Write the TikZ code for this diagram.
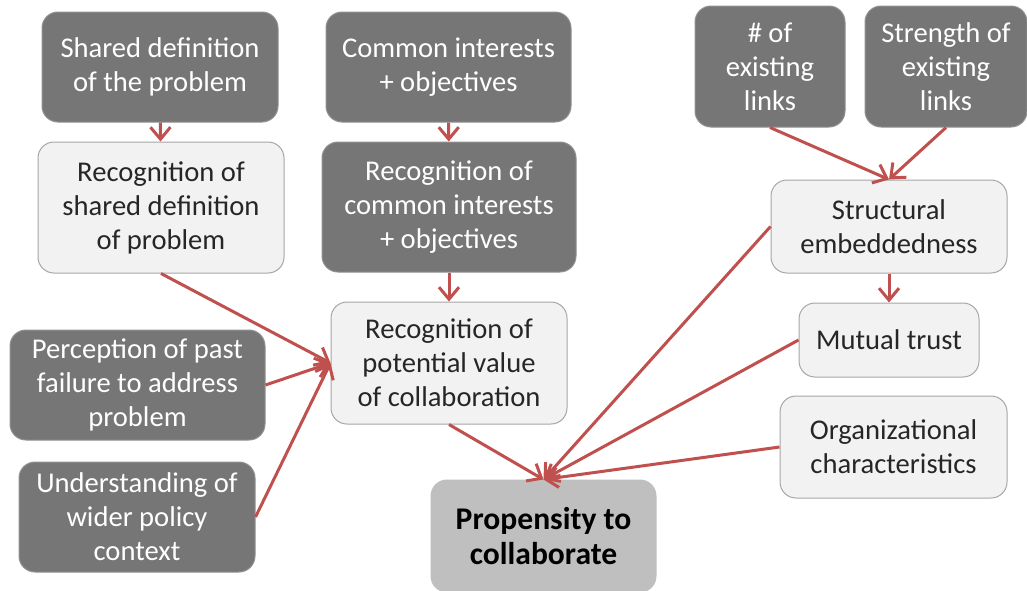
\documentclass[tikz,border=0pt]{standalone}
\usepackage{fontspec}
\setmainfont{Carlito}
\usetikzlibrary{arrows.meta}
\definecolor{darkbox}{HTML}{767676}
\definecolor{lightbox}{HTML}{F2F2F2}
\definecolor{lightborder}{HTML}{A6A6A6}
\definecolor{midbox}{HTML}{BFBFBF}
\definecolor{arrred}{HTML}{C0504D}
\definecolor{txt}{HTML}{262626}
\tikzset{
  base/.style={rounded corners=8pt, align=center, inner sep=0pt,
    font=\fontsize{14.3}{17}\selectfont},
  dark/.style={base, fill=darkbox, draw=darkbox!80!white, line width=0.5pt, text=white},
  light/.style={base, fill=lightbox, draw=lightborder, line width=0.5pt, text=txt},
  mid/.style={base, fill=midbox, draw=midbox, line width=0.5pt, text=black,
    font=\fontsize{15.8}{17.5}\selectfont\bfseries},
  conn/.style={draw=arrred, line width=1.5pt, -{Straight Barb[length=6pt,width=10pt,line width=1.5pt]}},
}
\begin{document}
\begin{tikzpicture}[x=0.5pt,y=-0.5pt]
\useasboundingbox (0,0) rectangle (1027,590);
% left column
\node[dark, minimum width=118pt, minimum height=55pt] (sd) at (160,67) {Shared definition\\of the problem};
\node[light, minimum width=123pt, minimum height=65.5pt] (rsd) at (161,207.5) {Recognition of\\shared definition\\of problem};
% middle column
\node[dark, minimum width=122.5pt, minimum height=55pt] (ci) at (448.5,67) {Common interests\\+ objectives};
\node[dark, minimum width=127pt, minimum height=65pt] (rci) at (449,207) {Recognition of\\common interests\\+ objectives};
\node[light, minimum width=118pt, minimum height=61pt] (pv) at (449,363) {Recognition of\\potential value\\of collaboration};
% lower left
\node[dark, minimum width=127.5pt, minimum height=55pt] (pf) at (137.5,385) {Perception of past\\failure to address\\problem};
\node[dark, minimum width=118pt, minimum height=55pt] (uw) at (137,517) {Understanding of\\wider policy\\context};
% target
\node[mid, minimum width=112.5pt, minimum height=56pt] (pc) at (543.5,536) {Propensity to\\collaborate};
% right column
\node[dark, minimum width=75pt, minimum height=60.5pt] (nl) at (770,66.5) {\# of\\existing\\links};
\node[dark, minimum width=81pt, minimum height=60.5pt] (sl) at (946,66.5) {Strength of\\existing\\links};
\node[light, minimum width=118pt, minimum height=46.5pt] (se) at (889,226.5) {Structural\\embeddedness};
\node[light, minimum width=90pt, minimum height=37pt] (mt) at (889,340) {Mutual trust};
\node[light, minimum width=113.5pt, minimum height=51pt] (oc) at (893.5,447) {Organizational\\characteristics};
% connectors
\draw[conn] (sd) -- (rsd);
\draw[conn] (ci) -- (rci);
\draw[conn] (rci) -- (pv);
\draw[conn] (rsd.south) -- (pv.west);
\draw[conn] (pf.east) -- (pv.west);
\draw[conn] (uw.east) -- (pv.west);
\draw[conn] (pv.south) -- (pc.north);
\draw[conn] (se.west) -- (pc.north);
\draw[conn] (mt.west) -- (pc.north);
\draw[conn] (oc.west) -- (pc.north);
\draw[conn] (nl.south) -- (se.north);
\draw[conn] (sl.south) -- (se.north);
\draw[conn] (se) -- (mt);
\end{tikzpicture}
\end{document}
